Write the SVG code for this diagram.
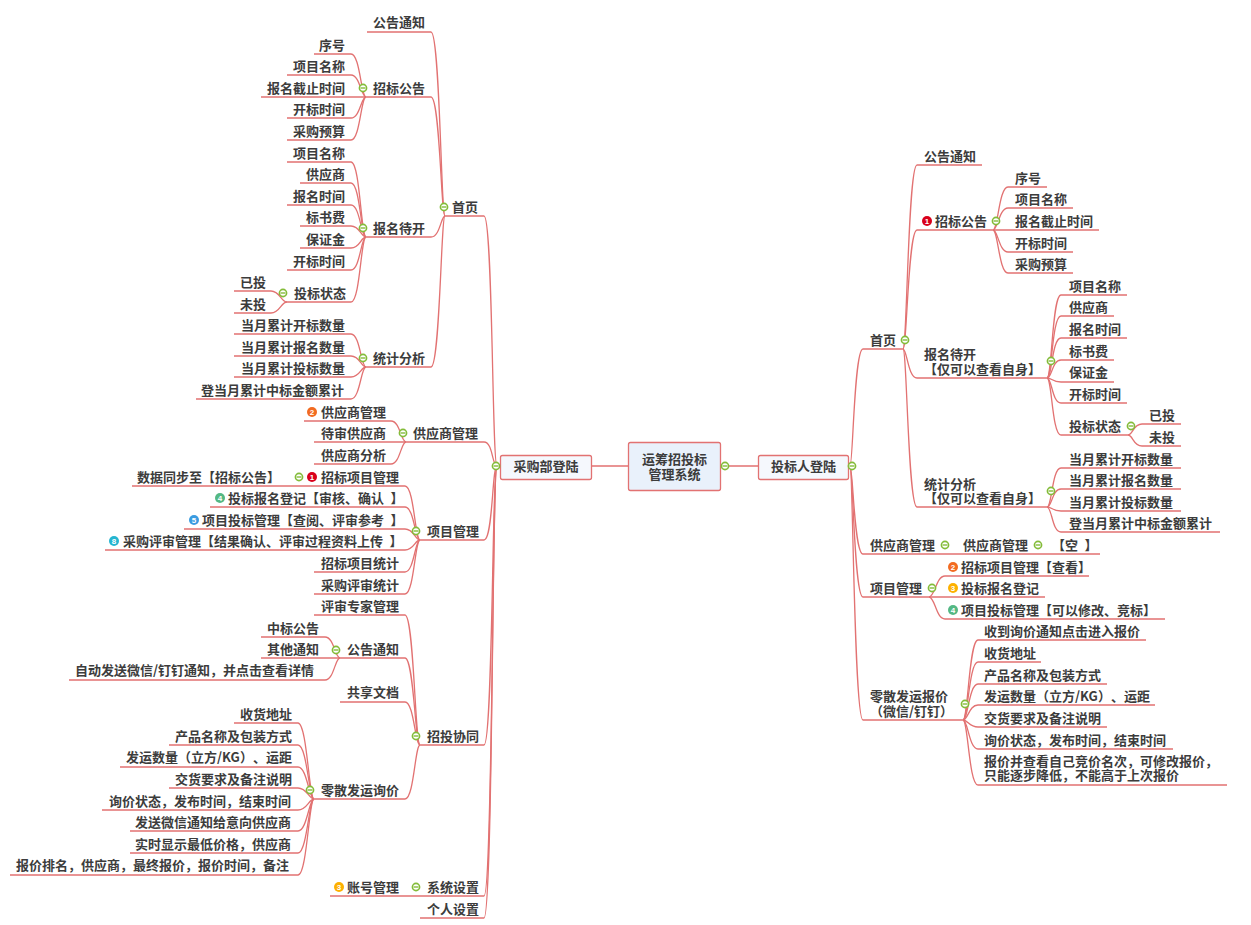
<svg xmlns="http://www.w3.org/2000/svg" width="1251" height="925" viewBox="0 0 1251 925">
<style>
text{font:700 13px "Noto Sans CJK SC","Noto Sans CJK JP",sans-serif;fill:#3c3c3c;text-spacing-trim:space-all;word-spacing:3.5px}
.n{font:700 8px "Liberation Sans",sans-serif;fill:#fff;text-anchor:middle}
.m{text-anchor:middle}
#connectors path{fill:none;stroke:#e27272;stroke-width:1.3}
.box{stroke:#e27272;stroke-width:1.3}
</style>
<defs>
<g id="c"><circle r="3.6" fill="#fff" stroke="#84bc3a" stroke-width="1.6"/><path d="M-2.4 0H2.4" stroke="#84bc3a" stroke-width="1.4"/></g>
</defs>
<rect width="1251" height="925" fill="#fff"/>
<g id="connectors">
<path d="M591 466H628M729 466H758"/>
<path d="M445 216H484C493 216 492 466 497 466"/>
<path d="M406 442H484C493 442 492 466 497 466"/>
<path d="M420 540H484C493 540 492 466 497 466"/>
<path d="M420 745H484C493 745 492 466 497 466"/>
<path d="M330 896H484C493 896 492 466 497 466"/>
<path d="M420 918H484C493 918 492 466 497 466"/>
<path d="M367 32H431C440 32 441 216 445 216"/>
<path d="M366 97H431C440 97 441 216 445 216"/>
<path d="M366 237H431C440 237 441 216 445 216"/>
<path d="M366 367H431C440 367 441 216 445 216"/>
<path d="M314 54H351C360 54 361 97 366 97"/>
<path d="M287 75H351C360 75 361 97 366 97"/>
<path d="M261 97H366"/>
<path d="M287 118H351C360 118 361 97 366 97"/>
<path d="M287 140H351C360 140 361 97 366 97"/>
<path d="M287 162H351C360 162 361 237 366 237"/>
<path d="M300 183H351C360 183 361 237 366 237"/>
<path d="M287 205H351C360 205 361 237 366 237"/>
<path d="M300 226H351C360 226 361 237 366 237"/>
<path d="M300 248H351C360 248 361 237 366 237"/>
<path d="M287 270H351C360 270 361 237 366 237"/>
<path d="M287 302H351C360 302 361 237 366 237"/>
<path d="M234 291H271C280 291 281 302 287 302"/>
<path d="M234 313H271C280 313 281 302 287 302"/>
<path d="M234 334H351C360 334 361 367 366 367"/>
<path d="M234 356H351C360 356 361 367 366 367"/>
<path d="M234 377H351C360 377 361 367 366 367"/>
<path d="M196 399H351C360 399 361 367 366 367"/>
<path d="M304 421H391C400 421 401 442 406 442"/>
<path d="M314 442H406"/>
<path d="M314 464H391C400 464 401 442 406 442"/>
<path d="M132 486H405C414 486 415 540 420 540"/>
<path d="M210 507H405C414 507 415 540 420 540"/>
<path d="M184 529H405C414 529 415 540 420 540"/>
<path d="M105 550H405C414 550 415 540 420 540"/>
<path d="M314 572H405C414 572 415 540 420 540"/>
<path d="M314 594H405C414 594 415 540 420 540"/>
<path d="M314 615H405C414 615 415 745 420 745"/>
<path d="M340 658H405C414 658 415 745 420 745"/>
<path d="M340 702H405C414 702 415 745 420 745"/>
<path d="M314 799H405C414 799 415 745 420 745"/>
<path d="M261 637H325C334 637 335 658 340 658"/>
<path d="M261 658H340"/>
<path d="M69 680H325C334 680 335 658 340 658"/>
<path d="M234 723H298C307 723 309 799 314 799"/>
<path d="M169 745H298C307 745 309 799 314 799"/>
<path d="M120 767H298C307 767 309 799 314 799"/>
<path d="M169 788H298C307 788 309 799 314 799"/>
<path d="M102 810H298C307 810 309 799 314 799"/>
<path d="M130 831H298C307 831 309 799 314 799"/>
<path d="M130 853H298C307 853 309 799 314 799"/>
<path d="M10 875H298C307 875 309 799 314 799"/>
<path d="M903 349H863C854 349 853 466 850 466"/>
<path d="M1100 554H863C854 554 853 466 850 466"/>
<path d="M929 597H863C854 597 853 466 850 466"/>
<path d="M963 720H863C854 720 853 466 850 466"/>
<path d="M982 165H917C908 165 907 349 903 349"/>
<path d="M993 230H917C908 230 907 349 903 349"/>
<path d="M1047 378H917C908 378 907 349 903 349"/>
<path d="M1047 507H917C908 507 907 349 903 349"/>
<path d="M1047 187H1008C999 187 998 230 993 230"/>
<path d="M1073 208H1008C999 208 998 230 993 230"/>
<path d="M1099 230H993"/>
<path d="M1073 252H1008C999 252 998 230 993 230"/>
<path d="M1073 273H1008C999 273 998 230 993 230"/>
<path d="M1127 295H1061C1052 295 1052 378 1047 378"/>
<path d="M1114 316H1061C1052 316 1052 378 1047 378"/>
<path d="M1127 338H1061C1052 338 1052 378 1047 378"/>
<path d="M1114 360H1061C1052 360 1052 378 1047 378"/>
<path d="M1114 382H1061C1052 382 1052 378 1047 378"/>
<path d="M1127 403H1061C1052 403 1052 378 1047 378"/>
<path d="M1128 435H1061C1052 435 1052 378 1047 378"/>
<path d="M1181 424H1142C1133 424 1133 435 1128 435"/>
<path d="M1181 446H1142C1133 446 1133 435 1128 435"/>
<path d="M1181 468H1061C1052 468 1052 507 1047 507"/>
<path d="M1181 489H1061C1052 489 1052 507 1047 507"/>
<path d="M1181 511H1061C1052 511 1052 507 1047 507"/>
<path d="M1220 532H1061C1052 532 1052 507 1047 507"/>
<path d="M1089 576H945C936 576 935 597 929 597"/>
<path d="M1045 597H929"/>
<path d="M1165 619H945C936 619 935 597 929 597"/>
<path d="M1146 640H978C969 640 968 720 963 720"/>
<path d="M1041 662H978C969 662 968 720 963 720"/>
<path d="M1107 684H978C969 684 968 720 963 720"/>
<path d="M1155 705H978C969 705 968 720 963 720"/>
<path d="M1107 727H978C969 727 968 720 963 720"/>
<path d="M1173 749H978C969 749 968 720 963 720"/>
<path d="M1227 785H978C969 785 968 720 963 720"/>
</g>
<g id="root"><rect class="box" x="628.5" y="442.5" width="92" height="48" rx="2" fill="#e9f1fb"/><text class="m" x="674.5" y="464">运筹招投标<tspan x="674.5" dy="15">管理系统</tspan></text><use href="#c" x="725" y="466"/></g>
<g id="buyer"><rect class="box" x="500.5" y="455.5" width="91" height="24" rx="2" fill="#f5f8fd"/><text class="m" x="546" y="471">采购部登陆</text><use href="#c" x="496" y="466"/></g>
<g id="bidder"><rect class="box" x="758.5" y="455.5" width="90" height="24" rx="2" fill="#f5f8fd"/><text class="m" x="803.5" y="471">投标人登陆</text><use href="#c" x="852" y="466"/></g>

<g id="l-home"><text x="452" y="212">首页</text><use href="#c" x="444" y="207"/></g>
<g id="l1"><text x="373" y="27">公告通知</text></g>
<g id="l2"><text x="373" y="93">招标公告</text><use href="#c" x="363" y="88"/></g>
<g id="l2a"><text x="319" y="50">序号</text></g>
<g id="l2b"><text x="293" y="71">项目名称</text></g>
<g id="l2c"><text x="267" y="93">报名截止时间</text></g>
<g id="l2d"><text x="293" y="114">开标时间</text></g>
<g id="l2e"><text x="293" y="136">采购预算</text></g>
<g id="l3"><text x="373" y="233">报名待开</text><use href="#c" x="363" y="228"/></g>
<g id="l3a"><text x="293" y="158">项目名称</text></g>
<g id="l3b"><text x="306" y="179">供应商</text></g>
<g id="l3c"><text x="293" y="201">报名时间</text></g>
<g id="l3d"><text x="306" y="222">标书费</text></g>
<g id="l3e"><text x="306" y="244">保证金</text></g>
<g id="l3f"><text x="293" y="266">开标时间</text></g>
<g id="l3g"><text x="294" y="298">投标状态</text><use href="#c" x="283" y="293"/></g>
<g id="l3g1"><text x="240" y="287">已投</text></g>
<g id="l3g2"><text x="240" y="309">未投</text></g>
<g id="l4"><text x="373" y="363">统计分析</text><use href="#c" x="363" y="358"/></g>
<g id="l4a"><text x="241" y="330">当月累计开标数量</text></g>
<g id="l4b"><text x="241" y="352">当月累计报名数量</text></g>
<g id="l4c"><text x="241" y="373">当月累计投标数量</text></g>
<g id="l4d"><text x="201" y="395">登当月累计中标金额累计</text></g>

<g id="l-sup"><text x="413" y="438">供应商管理</text><use href="#c" x="403" y="433"/></g>
<g id="l-sup1"><circle cx="312" cy="412" r="5" fill="#f26b21"/><text class="n" x="312" y="415">2</text><text x="321" y="417">供应商管理</text></g>
<g id="l-sup2"><text x="321" y="438">待审供应商</text></g>
<g id="l-sup3"><text x="321" y="460">供应商分析</text></g>

<g id="l-prj"><text x="427" y="536">项目管理</text><use href="#c" x="416" y="531"/></g>
<g id="l-prj1"><text x="137" y="482">数据同步至【招标公告】</text><use href="#c" x="299" y="477"/><circle cx="312" cy="477" r="5" fill="#d9001b"/><text class="n" x="312" y="480">1</text><text x="321" y="482">招标项目管理</text></g>
<g id="l-prj2"><circle cx="220" cy="498" r="5" fill="#54b884"/><text class="n" x="220" y="501">4</text><text x="228" y="503">投标报名登记【审核、确认 】</text></g>
<g id="l-prj3"><circle cx="194" cy="520" r="5" fill="#3a9be0"/><text class="n" x="194" y="523">5</text><text x="202" y="525">项目投标管理【查阅、评审参考 】</text></g>
<g id="l-prj4"><circle cx="114" cy="541" r="5" fill="#25b5d0"/><text class="n" x="114" y="544">8</text><text x="123" y="546">采购评审管理【结果确认、评审过程资料上传 】</text></g>
<g id="l-prj5"><text x="321" y="568">招标项目统计</text></g>
<g id="l-prj6"><text x="321" y="590">采购评审统计</text></g>

<g id="l-col"><text x="427" y="741">招投协同</text><use href="#c" x="416" y="736"/></g>
<g id="l-col1"><text x="321" y="611">评审专家管理</text></g>
<g id="l-col2"><text x="347" y="654">公告通知</text><use href="#c" x="336" y="650"/></g>
<g id="l-col2a"><text x="267" y="633">中标公告</text></g>
<g id="l-col2b"><text x="267" y="654">其他通知</text></g>
<g id="l-col2c"><text x="75" y="675">自动发送微信/钉钉通知，并点击查看详情</text></g>
<g id="l-col3"><text x="347" y="697">共享文档</text></g>
<g id="l-col4"><text x="321" y="795">零散发运询价</text><use href="#c" x="310" y="790"/></g>
<g id="l-col4a"><text x="240" y="719">收货地址</text></g>
<g id="l-col4b"><text x="175" y="741">产品名称及包装方式</text></g>
<g id="l-col4c"><text x="126" y="762">发运数量（立方/KG）、运距</text></g>
<g id="l-col4d"><text x="175" y="784">交货要求及备注说明</text></g>
<g id="l-col4e"><text x="109" y="806">询价状态，发布时间，结束时间</text></g>
<g id="l-col4f"><text x="135" y="827">发送微信通知给意向供应商</text></g>
<g id="l-col4g"><text x="135" y="849">实时显示最低价格，供应商</text></g>
<g id="l-col4h"><text x="16" y="870">报价排名，供应商，最终报价，报价时间，备注</text></g>

<g id="l-sys"><circle cx="339" cy="887" r="5" fill="#fdb000"/><text class="n" x="339" y="890">3</text><text x="347" y="892">账号管理</text><use href="#c" x="416" y="887"/><text x="427" y="892">系统设置</text></g>
<g id="l-me"><text x="427" y="914">个人设置</text></g>

<g id="r-home"><text x="870" y="345">首页</text><use href="#c" x="905" y="340"/></g>
<g id="r1"><text x="924" y="161">公告通知</text></g>
<g id="r2"><circle cx="927" cy="221" r="5" fill="#d9001b"/><text class="n" x="927" y="224">1</text><text x="935" y="226">招标公告</text><use href="#c" x="996" y="221"/></g>
<g id="r2a"><text x="1015" y="183">序号</text></g>
<g id="r2b"><text x="1015" y="204">项目名称</text></g>
<g id="r2c"><text x="1015" y="226">报名截止时间</text></g>
<g id="r2d"><text x="1015" y="248">开标时间</text></g>
<g id="r2e"><text x="1015" y="269">采购预算</text></g>
<g id="r3"><text x="924" y="359">报名待开<tspan x="924" dy="15">【仅可以查看自身】</tspan></text><use href="#c" x="1051" y="361"/></g>
<g id="r3a"><text x="1069" y="291">项目名称</text></g>
<g id="r3b"><text x="1069" y="312">供应商</text></g>
<g id="r3c"><text x="1069" y="334">报名时间</text></g>
<g id="r3d"><text x="1069" y="356">标书费</text></g>
<g id="r3e"><text x="1069" y="377">保证金</text></g>
<g id="r3f"><text x="1069" y="399">开标时间</text></g>
<g id="r3g"><text x="1069" y="431">投标状态</text><use href="#c" x="1131" y="426"/></g>
<g id="r3g1"><text x="1149" y="420">已投</text></g>
<g id="r3g2"><text x="1149" y="442">未投</text></g>
<g id="r4"><text x="924" y="489">统计分析<tspan x="924" dy="14">【仅可以查看自身】</tspan></text><use href="#c" x="1051" y="491"/></g>
<g id="r4a"><text x="1069" y="464">当月累计开标数量</text></g>
<g id="r4b"><text x="1069" y="485">当月累计报名数量</text></g>
<g id="r4c"><text x="1069" y="507">当月累计投标数量</text></g>
<g id="r4d"><text x="1069" y="528">登当月累计中标金额累计</text></g>

<g id="r-sup"><text x="870" y="550">供应商管理</text><use href="#c" x="945" y="545"/><text x="963" y="550">供应商管理</text><use href="#c" x="1038" y="545"/><text x="1052" y="550">【空 】</text></g>

<g id="r-prj"><text x="870" y="593">项目管理</text><use href="#c" x="932" y="588"/></g>
<g id="r-prj1"><circle cx="953" cy="567" r="5" fill="#f26b21"/><text class="n" x="953" y="570">2</text><text x="961" y="572">招标项目管理【查看】</text></g>
<g id="r-prj2"><circle cx="953" cy="588" r="5" fill="#fdb000"/><text class="n" x="953" y="591">3</text><text x="961" y="593">投标报名登记</text></g>
<g id="r-prj3"><circle cx="953" cy="610" r="5" fill="#54b884"/><text class="n" x="953" y="613">4</text><text x="961" y="615">项目投标管理【可以修改、竞标】</text></g>

<g id="r-ret"><text x="870" y="701">零散发运报价<tspan x="870" dy="15">（微信/钉钉）</tspan></text><use href="#c" x="965" y="704"/></g>
<g id="r-ret1"><text x="984" y="636">收到询价通知点击进入报价</text></g>
<g id="r-ret2"><text x="984" y="658">收货地址</text></g>
<g id="r-ret3"><text x="984" y="680">产品名称及包装方式</text></g>
<g id="r-ret4"><text x="984" y="701">发运数量（立方/KG）、运距</text></g>
<g id="r-ret5"><text x="984" y="723">交货要求及备注说明</text></g>
<g id="r-ret6"><text x="984" y="745">询价状态，发布时间，结束时间</text></g>
<g id="r-ret7"><text x="984" y="766">报价并查看自己竞价名次，可修改报价，<tspan x="984" dy="14">只能逐步降低，不能高于上次报价</tspan></text></g>
</svg>
